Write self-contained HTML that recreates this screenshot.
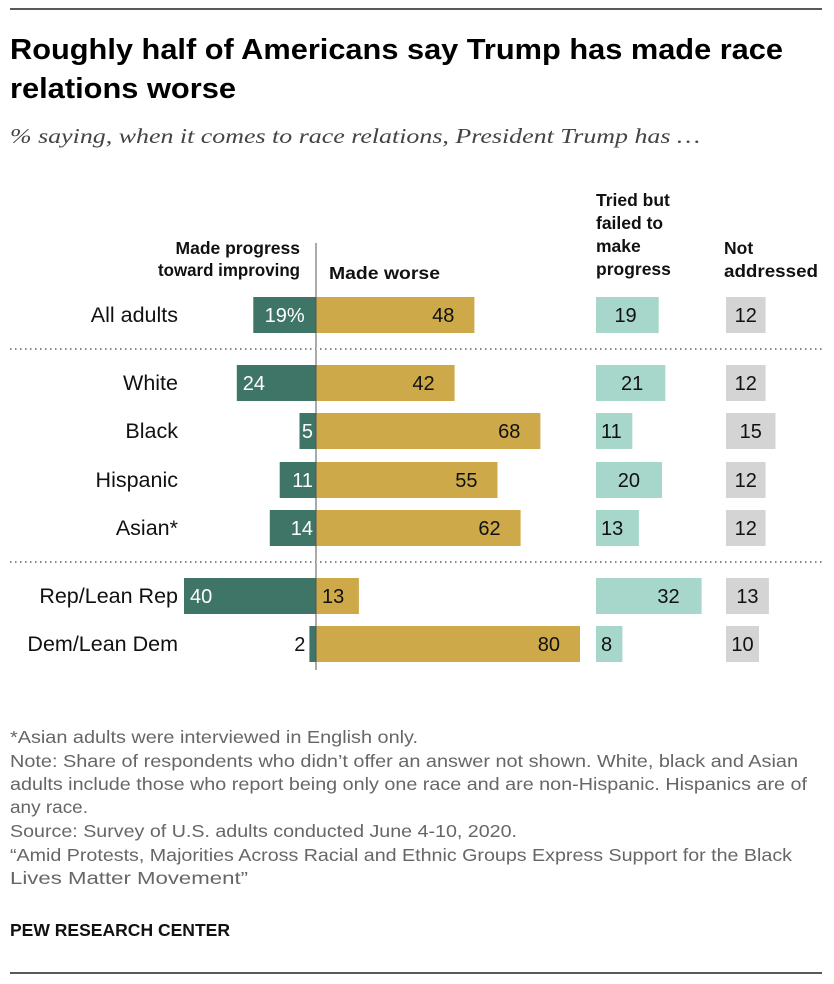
<!DOCTYPE html>
<html><head><meta charset="utf-8"><style>
body{margin:0;background:#fff;font-family:"Liberation Sans",sans-serif;}
svg{display:block}
</style></head><body>
<svg width="834" height="984" xmlns="http://www.w3.org/2000/svg">
<line x1="10" y1="9" x2="822" y2="9" stroke="#222" stroke-width="1.5"/>
<text x="10" y="59" font-size="29" font-weight="bold" fill="#000" textLength="773" lengthAdjust="spacingAndGlyphs">Roughly half of Americans say Trump has made race</text>
<text x="10" y="98" font-size="29" font-weight="bold" fill="#000" textLength="226" lengthAdjust="spacingAndGlyphs">relations worse</text>
<text x="10" y="143" font-size="21" font-style="italic" font-family="Liberation Serif,serif" fill="#444" textLength="690" lengthAdjust="spacingAndGlyphs">% saying, when it comes to race relations, President Trump has …</text>
<g font-size="17.5" font-weight="bold" fill="#111">
<text x="300" y="254" text-anchor="end">Made progress</text>
<text x="300" y="276" text-anchor="end" textLength="142" lengthAdjust="spacingAndGlyphs">toward improving</text>
<text x="329" y="279" textLength="111" lengthAdjust="spacingAndGlyphs">Made worse</text>
<text x="596" y="206">Tried but</text>
<text x="596" y="229">failed to</text>
<text x="596" y="252">make</text>
<text x="596" y="275">progress</text>
<text x="724" y="254">Not</text>
<text x="724" y="277" textLength="94" lengthAdjust="spacingAndGlyphs">addressed</text>
</g>
<g id="bars"></g>
<line x1="316" y1="243" x2="316" y2="670" stroke="#555" stroke-width="1"/>
<line x1="10" y1="349" x2="822" y2="349" stroke="#888" stroke-width="2" stroke-dasharray="1.5 3.5"/>
<line x1="10" y1="562" x2="822" y2="562" stroke="#888" stroke-width="2" stroke-dasharray="1.5 3.5"/>
<g font-size="17.5" fill="#666">
<text x="10" y="743" textLength="408" lengthAdjust="spacingAndGlyphs">*Asian adults were interviewed in English only.</text>
<text x="10" y="767" textLength="788" lengthAdjust="spacingAndGlyphs">Note: Share of respondents who didn’t offer an answer not shown. White, black and Asian</text>
<text x="10" y="790" textLength="797" lengthAdjust="spacingAndGlyphs">adults include those who report being only one race and are non-Hispanic. Hispanics are of</text>
<text x="10" y="813" textLength="78" lengthAdjust="spacingAndGlyphs">any race.</text>
<text x="10" y="837" textLength="507" lengthAdjust="spacingAndGlyphs">Source: Survey of U.S. adults conducted June 4-10, 2020.</text>
<text x="10" y="861" textLength="782" lengthAdjust="spacingAndGlyphs">“Amid Protests, Majorities Across Racial and Ethnic Groups Express Support for the Black</text>
<text x="10" y="884" textLength="238" lengthAdjust="spacingAndGlyphs">Lives Matter Movement”</text>
</g>
<text x="10" y="936" font-size="17.5" font-weight="bold" fill="#111" textLength="220" lengthAdjust="spacingAndGlyphs">PEW RESEARCH CENTER</text>
<line x1="10" y1="973" x2="822" y2="973" stroke="#222" stroke-width="1.5"/>
</svg>
<script>
const categories=["All adults","White","Black","Hispanic","Asian*","Rep/Lean Rep","Dem/Lean Dem"];
const progress=[19,24,5,11,14,40,2];
const worse=[48,42,68,55,62,13,80];
const tried=[19,21,11,20,13,32,8];
const notAddressed=[12,12,15,12,12,13,10];
const rowY=[315,383,431,480,528,596,644];
const NS="http://www.w3.org/2000/svg";
const g=document.getElementById('bars');
const k=3.3, x0=316, xt=596, xn=726, bh=36;
const sx=v=>v*k;
function rect(x,y,w,fill){const r=document.createElementNS(NS,'rect');r.setAttribute('x',x);r.setAttribute('y',y-bh/2);r.setAttribute('width',w);r.setAttribute('height',bh);r.setAttribute('fill',fill);g.appendChild(r);return r;}
function txt(x,y,s,anchor,fill,size){const t=document.createElementNS(NS,'text');t.setAttribute('x',x);t.setAttribute('y',y+7);t.setAttribute('text-anchor',anchor);t.setAttribute('fill',fill);t.setAttribute('font-size',size||20);t.textContent=s;g.appendChild(t);return t;}
categories.forEach((c,i)=>{
 const y=rowY[i];
 let t=txt(178,y,c,'end','#111',21.5);
 
 
 const pw=sx(progress[i]);
 let r=rect(x0-pw,y,pw,'#3f7566');
 
 
 const ps=progress[i]+(i===0?'%':'');
 let pt;
 if(pw<12) pt=txt(x0-pw-4,y,ps,'end','#111');
 else if(i===0) pt=txt(x0-pw/2,y,ps,'middle','#fff');
 else if(progress[i]>=20) pt=txt(x0-pw+6,y,ps,'start','#fff');
 else pt=txt(x0-3,y,ps,'end','#fff');
 
 
 const ww=sx(worse[i]);
 r=rect(x0,y,ww,'#cda94a');
 
 
 let wt=worse[i]>20?txt(x0+ww-20,y,worse[i],'end','#111'):txt(x0+6,y,worse[i],'start','#111');
 
 
 const tw=sx(tried[i]);
 r=rect(xt,y,tw,'#a7d6cb');
 
 
 let tt=tried[i]>=19?txt(xt+tw-22,y,tried[i],'end','#111'):txt(xt+5,y,tried[i],'start','#111');
 
 
 const nw=sx(notAddressed[i]);
 r=rect(xn,y,nw,'#d4d4d4');
 
 
 let nt=txt(xn+nw/2,y,notAddressed[i],'middle','#111');
 
 
});
</script>
</body></html>
